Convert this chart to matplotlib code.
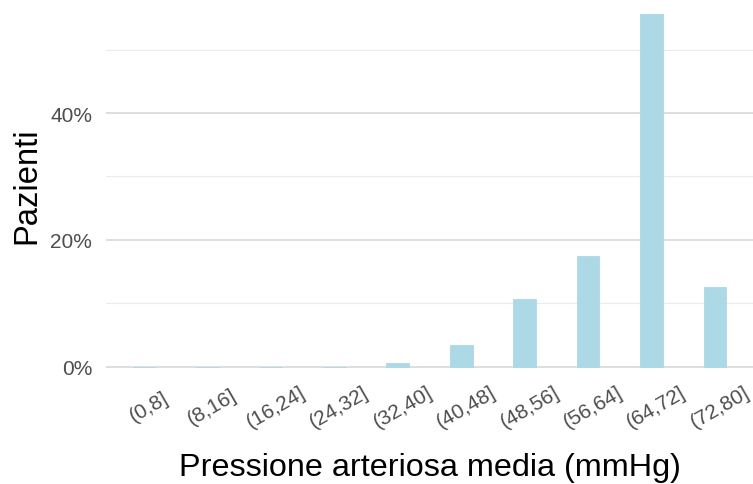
import matplotlib
matplotlib.use("Agg")
import matplotlib.pyplot as plt
import matplotlib.transforms as mtransforms
from matplotlib.ticker import FixedLocator, FuncFormatter

# Distribuzione della pressione arteriosa media
categorie = ["(0,8]", "(8,16]", "(16,24]", "(24,32]", "(32,40]",
             "(40,48]", "(48,56]", "(56,64]", "(64,72]", "(72,80]"]
percentuali = [0.0, 0.0, 0.0, 0.0, 0.55, 3.4, 10.65, 17.4, 55.6, 12.55]

y_major = [0, 20, 40]
y_minor = [10, 30, 50]

plt.rcParams['font.family'] = ['Liberation Sans', 'DejaVu Sans']

W, H = 753, 485
fig = plt.figure(figsize=(W / 100, H / 100), dpi=100)
ax = fig.add_axes([106 / W, 100 / H, 647 / W, 385 / H])

x = list(range(len(categorie)))
ax.bar(x, percentuali, width=0.36, color="#ADD8E6",
       edgecolor="#ADD8E6", linewidth=0.6, zorder=3)

ax.set_xlim(-0.6, len(categorie) - 0.4)
ax.set_ylim(-2.76, 58.0)

# griglia stile ggplot minimal
for v in y_minor:
    ax.axhline(v, color="#EBEBEB", linewidth=0.8, zorder=1)
for v in y_major:
    ax.axhline(v, color="#D4D4D4", linewidth=1.1, zorder=1)

ax.yaxis.set_major_locator(FixedLocator(y_major))
ax.yaxis.set_major_formatter(FuncFormatter(lambda v, p: f"{v:.0f}%"))
ax.set_xticks(x)
ax.set_xticklabels(categorie, rotation=30, rotation_mode="anchor",
                   ha="center", va="center")

ax.tick_params(axis="both", length=0, labelsize=15, labelcolor="#4D4D4D")
ax.tick_params(axis="y", pad=10)
ax.tick_params(axis="x", pad=16)

# etichette leggermente spostate a destra come nell'originale
offset = mtransforms.ScaledTranslation(0.05, 0, fig.dpi_scale_trans)
for lab in ax.get_xticklabels():
    lab.set_transform(lab.get_transform() + offset)

for s in ax.spines.values():
    s.set_visible(False)

# titoli degli assi
fig.text(430 / W, 2 / H, "Pressione arteriosa media (mmHg)",
         fontsize=23.3, ha="center", va="bottom")
fig.text(35 / W, 1 - 186 / H, "Pazienti", fontsize=23.6, rotation=90,
         rotation_mode="anchor", ha="center", va="baseline")

fig.savefig("out.png", dpi=100)
